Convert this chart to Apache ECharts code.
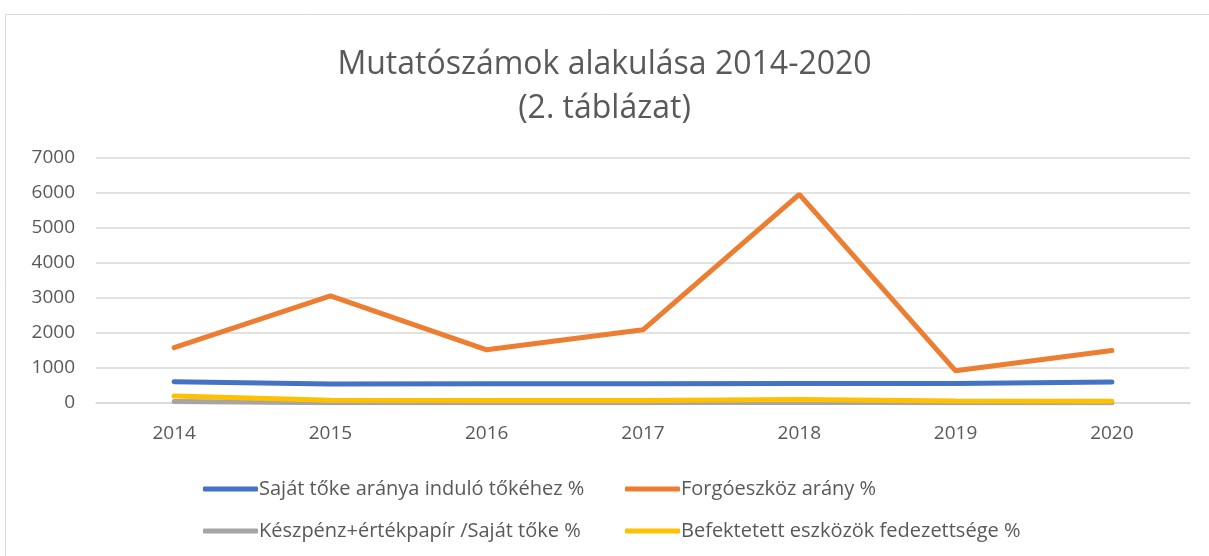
<!DOCTYPE html>
<html>
<head>
<meta charset="utf-8">
<script src="https://cdn.jsdelivr.net/npm/echarts@6/dist/echarts.min.js"></script>
<style>
  html, body { margin: 0; padding: 0; background: #fff; }
  #chart { width: 1209px; height: 556px; }
</style>
</head>
<body>
<div id="chart"></div>
<script>
// adatok (leolvasva az ábráról)
var years = ['2014', '2015', '2016', '2017', '2018', '2019', '2020'];
var sajatToke = [610, 540, 550, 550, 560, 560, 600];
var forgoeszkoz = [1580, 3060, 1520, 2090, 5960, 920, 1500];
var keszpenz = [40, 10, 10, 10, 20, 10, 10];
var befektetett = [200, 80, 70, 70, 100, 60, 50];
var seriesNames = [
  'Saját tőke aránya induló tőkéhez %',
  'Forgóeszköz arány %',
  'Készpénz+értékpapír /Saját tőke %',
  'Befektetett eszközök fedezettsége %'
];
var colors = ['#4472C4', '#ED7D31', '#A5A5A5', '#FFC000'];

var font = 'Open Sans';
var txt = '#595959';

function lineSeries(i, data, z) {
  return {
    name: seriesNames[i],
    type: 'line',
    data: data,
    symbol: 'none',
    smooth: false,
    z: z,
    lineStyle: { width: 5, color: colors[i], cap: 'round' },
    itemStyle: { color: colors[i] }
  };
}

function legendCol(left, names) {
  return {
    orient: 'vertical',
    left: left,
    top: 474,
    itemGap: 22,
    itemWidth: 55,
    itemHeight: 5,
    icon: 'roundRect',
    textStyle: { fontFamily: font, fontSize: 20, color: txt, padding: [0, 0, 0, -4] },
    data: names
  };
}

var myChart = echarts.init(document.getElementById('chart'));
myChart.setOption({
  animation: false,
  color: colors,
  title: {
    text: 'Mutatószámok alakulása 2014-2020\n(2. táblázat)',
    left: 'center',
    top: 38,
    textStyle: { fontFamily: font, fontSize: 32, fontWeight: 'normal', color: txt, lineHeight: 44 }
  },
  graphic: [{
    type: 'rect',
    shape: { x: 5.5, y: 14.5, width: 1220, height: 600 },
    style: { fill: 'none', stroke: '#d9d9d9', lineWidth: 1 },
    silent: true
  }],
  legend: [
    legendCol(198, [seriesNames[0], seriesNames[2]]),
    legendCol(620, [seriesNames[1], seriesNames[3]])
  ],
  grid: { left: 96, right: 19, top: 158, bottom: 153 },
  xAxis: {
    type: 'category',
    data: years,
    boundaryGap: true,
    axisLine: { lineStyle: { color: '#d9d9d9', width: 1.5 } },
    axisTick: { show: false },
    axisLabel: { fontFamily: font, fontSize: 19, color: txt, margin: 21 }
  },
  yAxis: {
    type: 'value',
    min: 0,
    max: 7000,
    interval: 1000,
    axisLine: { show: false },
    axisTick: { show: false },
    splitLine: { lineStyle: { color: '#d9d9d9', width: 1.5 } },
    axisLabel: {
      fontFamily: font, fontSize: 19, color: txt, margin: 21,
      formatter: function (v) { return String(v); }
    }
  },
  series: [
    lineSeries(2, keszpenz, 2),
    lineSeries(3, befektetett, 3),
    lineSeries(0, sajatToke, 4),
    lineSeries(1, forgoeszkoz, 5)
  ]
});
</script>
</body>
</html>
